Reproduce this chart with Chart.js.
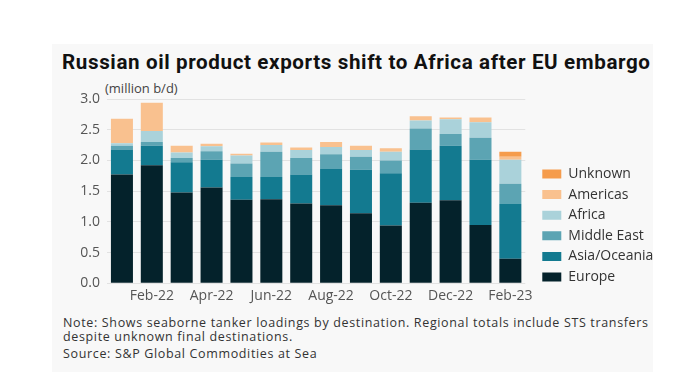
<!DOCTYPE html>
<html>
<head>
<meta charset="utf-8">
<script src="https://cdn.jsdelivr.net/npm/chart.js@4"></script>
<style>
  body { margin: 0; background: #fff; width: 700px; height: 392px; position: relative; overflow: hidden; }
  #panel { position: absolute; left: 52px; top: 44px; width: 601px; height: 328px; background: #f8f8f8; }
  #title { position: absolute; left: 62px; top: 51.8px; font: 700 20.6px/20px Roboto, sans-serif; color: #111; white-space: nowrap; }
  #unit { position: absolute; left: 105px; top: 81.5px; font: 13px/13px "Open Sans", sans-serif; color: #444; white-space: nowrap; }
  #note { position: absolute; left: 63px; top: 316.1px; font: 12.5px/14px "Open Sans", sans-serif; color: #333; white-space: nowrap; }
  #source { position: absolute; left: 63px; top: 348.2px; font: 12.5px/12.8px "Open Sans", sans-serif; color: #333; white-space: nowrap; }
  #wrap { position: absolute; left: 52px; top: 80px; width: 601px; height: 230px; }
</style>
</head>
<body>
<div id="panel"></div>
<div id="title">Russian oil product exports shift to Africa after EU embargo</div>
<div id="unit">(million b/d)</div>
<div id="wrap"><canvas id="exportsChart"></canvas></div>
<div id="note"><span id="noteLine">Note: Shows seaborne tanker loadings by destination. Regional totals include STS transfers</span><br>despite unknown final destinations.</div>
<div id="source">Source: S&amp;P Global Commodities at Sea</div>
<script>
// monthly exports, million b/d
var months = ["Jan-22", "Feb-22", "Mar-22", "Apr-22", "May-22", "Jun-22", "Jul-22",
              "Aug-22", "Sep-22", "Oct-22", "Nov-22", "Dec-22", "Jan-23", "Feb-23"];
var europe     = [1.77, 1.92, 1.48, 1.56, 1.36, 1.37, 1.30, 1.27, 1.14, 0.94, 1.31, 1.35, 0.95, 0.40];
var asia       = [0.41, 0.32, 0.49, 0.45, 0.37, 0.36, 0.47, 0.59, 0.71, 0.85, 0.87, 0.89, 1.06, 0.89];
var middleEast = [0.06, 0.06, 0.07, 0.14, 0.22, 0.41, 0.27, 0.24, 0.21, 0.21, 0.34, 0.19, 0.36, 0.33];
var africa     = [0.04, 0.18, 0.09, 0.08, 0.13, 0.11, 0.13, 0.12, 0.11, 0.14, 0.13, 0.24, 0.25, 0.39];
var americas   = [0.40, 0.46, 0.11, 0.04, 0.03, 0.04, 0.04, 0.08, 0.07, 0.06, 0.07, 0.03, 0.08, 0.05];
var unknown    = [0, 0, 0, 0, 0, 0, 0, 0, 0, 0, 0, 0, 0, 0.08];
var yTicks = [0, 0.5, 1, 1.5, 2, 2.5, 3];

// stretch a text line to the width it has in the original
function fitWidth(el, target) {
    var n = el.textContent.length;
    var w = el.getBoundingClientRect().width;
    el.style.letterSpacing = ((target - w) / (n - 1)) + "px";
}
fitWidth(document.getElementById("title"), 588);
fitWidth(document.getElementById("noteLine"), 585);
var noteLs = document.getElementById("noteLine").style.letterSpacing;
document.getElementById("note").style.letterSpacing = noteLs;
document.getElementById("source").style.letterSpacing = noteLs;

function series(label, data, color) {
    return {
        label: label,
        data: data,
        backgroundColor: color,
        borderWidth: 0,
        categoryPercentage: 1,
        barPercentage: 0.737
    };
}

// move the legend next to the plot (Chart.js ties the gap to the item padding)
var legendPlace = {
    id: "legendPlace",
    afterLayout: function (chart) {
        var lg = chart.legend;
        var pad = lg.options.labels.padding;
        var dx = chart.chartArea.right + 17 - (lg.left + pad);
        lg.left += dx; lg.right += dx;
        var dy = 80.4 - lg.top;
        lg.top += dy; lg.bottom += dy;
    }
};

var tickFont = { family: "'Open Sans', sans-serif", size: 14 };

var ctx = document.getElementById("exportsChart").getContext("2d");
var exportsChart = new Chart(ctx, {
    type: "bar",
    data: {
        labels: months,
        datasets: [
            series("Europe", europe, "#04222b"),
            series("Asia/Oceania", asia, "#137a90"),
            series("Middle East", middleEast, "#5ca4b3"),
            series("Africa", africa, "#aad2da"),
            series("Americas", americas, "#f9c18f"),
            series("Unknown", unknown, "#f59c4c")
        ]
    },
    options: {
        responsive: true,
        maintainAspectRatio: false,
        animation: false,
        layout: { padding: { left: 0, right: 0, top: 19, bottom: 0 } },
        plugins: {
            title: { display: false },
            tooltip: { enabled: false },
            legend: {
                position: "right",
                align: "start",
                reverse: true,
                labels: {
                    boxWidth: 19,
                    boxHeight: 9,
                    padding: 6.6,
                    color: "#333",
                    font: tickFont
                }
            }
        },
        scales: {
            x: {
                stacked: true,
                grid: { display: false, drawTicks: false },
                border: { display: false },
                afterFit: function (scale) { scale.height = 26.7; },
                ticks: {
                    autoSkip: false,
                    maxRotation: 0,
                    padding: 4,
                    color: "#555",
                    font: tickFont,
                    callback: function (value, index) {
                        return index % 2 === 1 ? months[index] : "";
                    }
                }
            },
            y: {
                stacked: true,
                min: 0,
                max: 3,
                afterFit: function (scale) { scale.width = 55; },
                afterBuildTicks: function (scale) {
                    scale.ticks = yTicks.map(function (v) { return { value: v }; });
                },
                grid: { color: "#e2e2e2", lineWidth: 1, drawTicks: false },
                border: { display: false },
                ticks: {
                    padding: 7,
                    color: "#555",
                    font: tickFont,
                    callback: function (value) { return value.toFixed(1); }
                }
            }
        }
    },
    plugins: [legendPlace]
});
</script>
</body>
</html>
